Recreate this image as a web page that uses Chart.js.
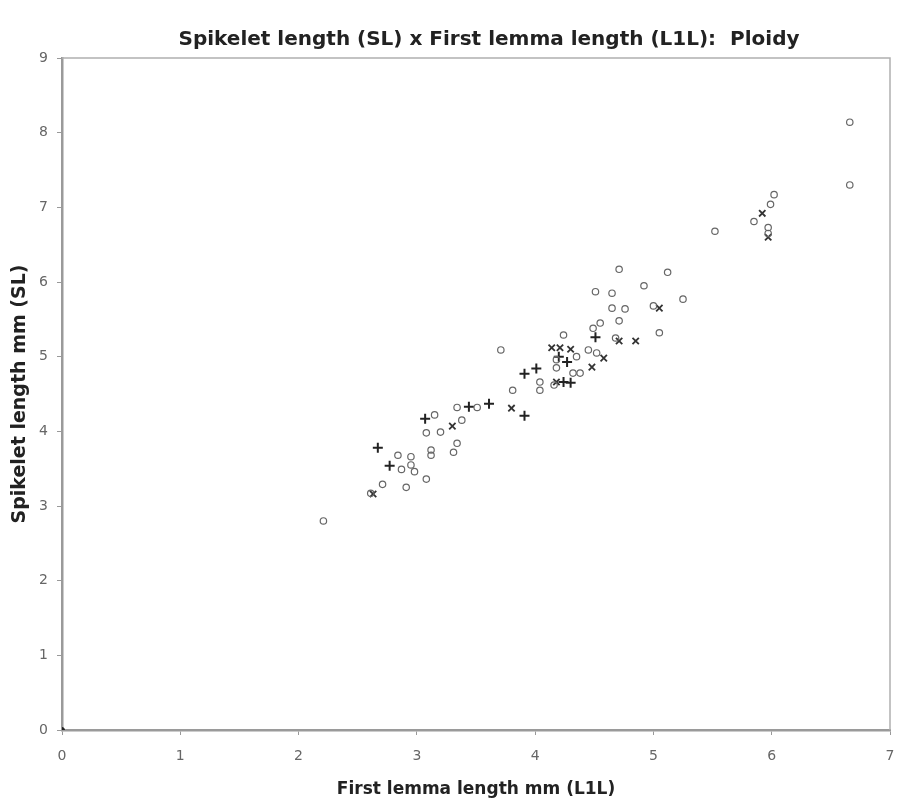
<!DOCTYPE html>
<html>
<head>
<meta charset="utf-8">
<script src="https://cdn.jsdelivr.net/npm/chart.js@4"></script>
<style>
html,body{margin:0;padding:0;background:#fff;}
#wrap{width:897px;height:806px;position:relative;}
</style>
</head>
<body>
<div id="wrap"><canvas id="c" width="897" height="806"></canvas></div>
<script>
// Data: [First lemma length (L1L), Spikelet length (SL)] in mm
const circleL1L = [2.21,6.66,6.66,6.02,5.99,5.85,5.97,5.97,5.52,4.71,5.12,4.92,4.51,4.65,5.25,5.00,4.65,4.76,4.71,4.55,4.49,5.05,4.68,4.24,4.45,4.52,3.71,4.35,4.18,4.32,4.38,4.04,4.04,3.81,3.51,3.34,3.15,3.38,3.20,3.08,3.34,3.31,2.84,2.95,2.87,2.95,2.98,2.71,2.91,3.08,2.61,3.12,3.12,4.18,4.16];
const circleSL  = [2.80,8.14,7.30,7.17,7.04,6.81,6.73,6.65,6.68,6.17,6.13,5.95,5.87,5.85,5.77,5.68,5.65,5.64,5.48,5.45,5.38,5.32,5.25,5.29,5.09,5.05,5.09,5.00,4.85,4.78,4.78,4.66,4.55,4.55,4.32,4.32,4.22,4.15,3.99,3.98,3.84,3.72,3.68,3.66,3.49,3.55,3.46,3.29,3.25,3.36,3.17,3.75,3.68,4.96,4.62];
const plusL1L = [2.67,2.77,3.07,3.44,3.61,3.91,3.91,4.01,4.24,4.27,4.51,4.30,4.20];
const plusSL  = [3.78,3.54,4.17,4.33,4.37,4.21,4.77,4.84,4.66,4.93,5.26,4.65,5.00];
const crossL1L = [2.63,3.30,3.80,4.14,4.21,4.30,4.18,4.58,4.48,4.71,4.85,5.05,5.92,5.97];
const crossSL  = [3.16,4.07,4.31,5.12,5.12,5.10,4.66,4.98,4.86,5.21,5.21,5.65,6.92,6.60];
const originL1L = [0];
const originSL  = [0];
const xTicks = [0,1,2,3,4,5,6,7];
const yTicks = [0,1,2,3,4,5,6,7,8,9];
const chartTitle = 'Spikelet length (SL) x First lemma length (L1L):  Ploidy';

const pts = (xs, ys) => xs.map((x, i) => ({x: x, y: ys[i]}));

const frame = {
  id: 'frame',
  afterDatasetsDraw(chart) {
    const {ctx, chartArea: a} = chart;
    ctx.save();
    ctx.strokeStyle = '#b0b0b0';
    ctx.lineWidth = 1.5;
    ctx.beginPath();
    ctx.moveTo(a.left, a.top);
    ctx.lineTo(a.right, a.top);
    ctx.lineTo(a.right, a.bottom);
    ctx.stroke();
    ctx.restore();
  },
  afterDraw(chart) {
    const ctx = chart.ctx;
    ctx.save();
    ctx.fillStyle = '#222';
    ctx.font = 'bold 20px "DejaVu Sans"';
    ctx.textAlign = 'center';
    ctx.textBaseline = 'middle';
    ctx.fillText(chartTitle, 489, 40);
    ctx.restore();
  }
};

new Chart(document.getElementById('c'), {
  type: 'scatter',
  data: {
    datasets: [
      {label: 'Ploidy 1', data: pts(circleL1L, circleSL), pointStyle: 'circle', pointRadius: 3.2,
       borderColor: '#666', backgroundColor: 'rgba(255,255,255,0)', borderWidth: 1.2},
      {label: 'Ploidy 2', data: pts(plusL1L, plusSL), pointStyle: 'cross', pointRadius: 5,
       borderColor: '#222', backgroundColor: '#222', borderWidth: 2},
      {label: 'Ploidy 3', data: pts(crossL1L, crossSL), pointStyle: 'crossRot', pointRadius: 4.5,
       borderColor: '#333', backgroundColor: '#333', borderWidth: 1.8},
      {label: 'Origin', data: pts(originL1L, originSL), pointStyle: 'circle', pointRadius: 2.5,
       borderColor: '#222', backgroundColor: '#222', borderWidth: 1}
    ]
  },
  options: {
    responsive: false,
    animation: false,
    layout: {padding: {left: 0, right: -4, top: 58, bottom: 0}},
    plugins: {
      legend: {display: false},
      tooltip: {enabled: false},
      title: {display: false}
    },
    scales: {
      x: {
        type: 'linear', min: 0, max: 7,
        afterBuildTicks: s => { s.ticks = xTicks.map(v => ({value: v})); },
        afterFit: s => { s.height = 76; s.paddingLeft = 0; s.paddingRight = 2; },
        grid: {display: true, drawOnChartArea: false, drawTicks: true, tickLength: 5, color: '#999', lineWidth: 1},
        border: {display: true, color: '#9a9a9a', width: 2.5},
        ticks: {color: '#666', font: {family: 'DejaVu Sans', size: 14}, padding: 13, maxRotation: 0},
        title: {display: true, text: 'First lemma length mm (L1L)', color: '#222',
                font: {family: 'DejaVu Sans', size: 17, weight: 'bold'}, padding: {top: 0, bottom: 6}}
      },
      y: {
        type: 'linear', min: 0, max: 9,
        afterBuildTicks: s => { s.ticks = yTicks.map(v => ({value: v})); },
        afterFit: s => { s.width = 62; s.paddingTop = 0; s.paddingBottom = 0; },
        grid: {display: true, drawOnChartArea: false, drawTicks: true, tickLength: 5, color: '#999', lineWidth: 1},
        border: {display: true, color: '#9a9a9a', width: 2.5},
        ticks: {color: '#666', font: {family: 'DejaVu Sans', size: 14}, padding: 9},
        title: {display: true, text: 'Spikelet length mm (SL)', color: '#222',
                font: {family: 'DejaVu Sans', size: 19, weight: 'bold'}, padding: {top: 9, bottom: 0}}
      }
    }
  },
  plugins: [frame]
});
</script>
</body>
</html>
